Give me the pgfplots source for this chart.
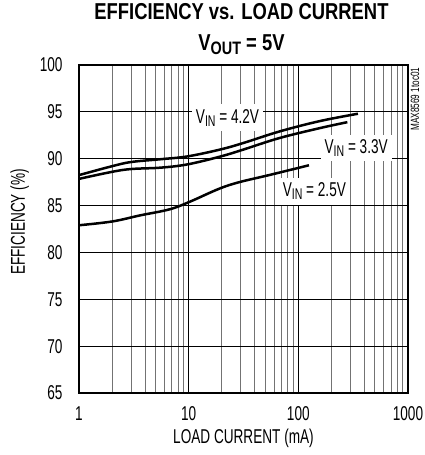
\documentclass[border=0pt]{standalone}
\usepackage{fontspec}
\setmainfont[FakeStretch=0.68]{Liberation Sans}
\newfontfamily\titlefont[FakeStretch=0.8]{Liberation Sans}
\usepackage{pgfplots}
\pgfplotsset{compat=1.18}
\newcommand\sub[1]{\raisebox{-0.28ex}{\fontsize{15.5}{15.5}\selectfont #1}}
\newcommand\tsub[1]{\raisebox{-0.28ex}{\fontsize{18}{18}\selectfont #1}}
\begin{document}
\begin{tikzpicture}
\useasboundingbox (-79pt,-62pt) rectangle (345pt,393pt);
\begin{axis}[
  at={(0,0)}, anchor=south west,
  scale only axis, width=329pt, height=328pt,
  xmode=log, xmin=1, xmax=1000, ymin=65, ymax=100,
  xtick={1,10,100,1000}, xticklabels={1,10,100,1000},
  ytick={65,70,...,100},
  /pgf/number format/assume math mode=true,
  tick label style={font=\fontsize{20}{20}\selectfont},
  major tick length=0pt, minor tick length=0pt,
  grid=both,
  major grid style={black, line width=0.8pt},
  minor grid style={black!55, line width=1pt},
  axis line style={line width=2.4pt},
  yticklabel style={xshift=-13pt},
  xticklabel style={yshift=-10pt},
  clip=false,
]
\addplot[line width=2.5pt, smooth, tension=0.6] coordinates {(1,88.25) (2,89.2) (3,89.65) (5.6,89.95) (9.8,90.25) (19.7,91.0) (32,91.7) (67,92.9) (155,94.0) (350,94.8)};
\addplot[line width=2.5pt, smooth, tension=0.6] coordinates {(1,87.85) (2,88.6) (3,88.9) (5.6,89.05) (9.8,89.4) (19.7,90.25) (32,91.0) (67,92.2) (155,93.25) (280,93.9)};
\addplot[line width=2.5pt, smooth, tension=0.6] coordinates {(1,82.9) (2,83.3) (3.6,83.95) (6.7,84.6) (10.2,85.4) (19,86.8) (29,87.5) (54,88.25) (125,89.3)};
\node[fill=white, inner xsep=4pt, inner ysep=5pt, font=\fontsize{20}{20}\selectfont] at (axis cs:22.6,94.35) {V\sub{IN} = 4.2V};
\node[fill=white, inner xsep=4pt, inner ysep=5pt, font=\fontsize{20}{20}\selectfont] at (axis cs:337,91.14) {V\sub{IN} = 3.3V};
\node[fill=white, inner xsep=4pt, inner ysep=5pt, font=\fontsize{20}{20}\selectfont] at (axis cs:140,86.55) {V\sub{IN} = 2.5V};
\node[anchor=base, font=\titlefont\bfseries\fontsize{23}{23}\selectfont] at ([xshift=-2pt,yshift=45pt]axis description cs:0.5,1) {EFFICIENCY vs. LOAD CURRENT};
\node[anchor=base, font=\titlefont\bfseries\fontsize{23}{23}\selectfont] at ([xshift=-2pt,yshift=14pt]axis description cs:0.5,1) {V\tsub{OUT} = 5V};
\node[anchor=base, font=\fontsize{20}{20}\selectfont] at ([yshift=-50pt]axis description cs:0.5,0) {LOAD CURRENT (mA)};
\node[anchor=base, rotate=90, font=\fontsize{20}{20}\selectfont] at ([xshift=-54pt,yshift=7pt]axis description cs:0,0.5) {EFFICIENCY (\%)};
\node[rotate=90, font=\fontsize{12}{12}\selectfont] at ([xshift=7pt,yshift=-34pt]axis description cs:1,1) {MAX8569 1toc01};
\end{axis}
\end{tikzpicture}
\end{document}
